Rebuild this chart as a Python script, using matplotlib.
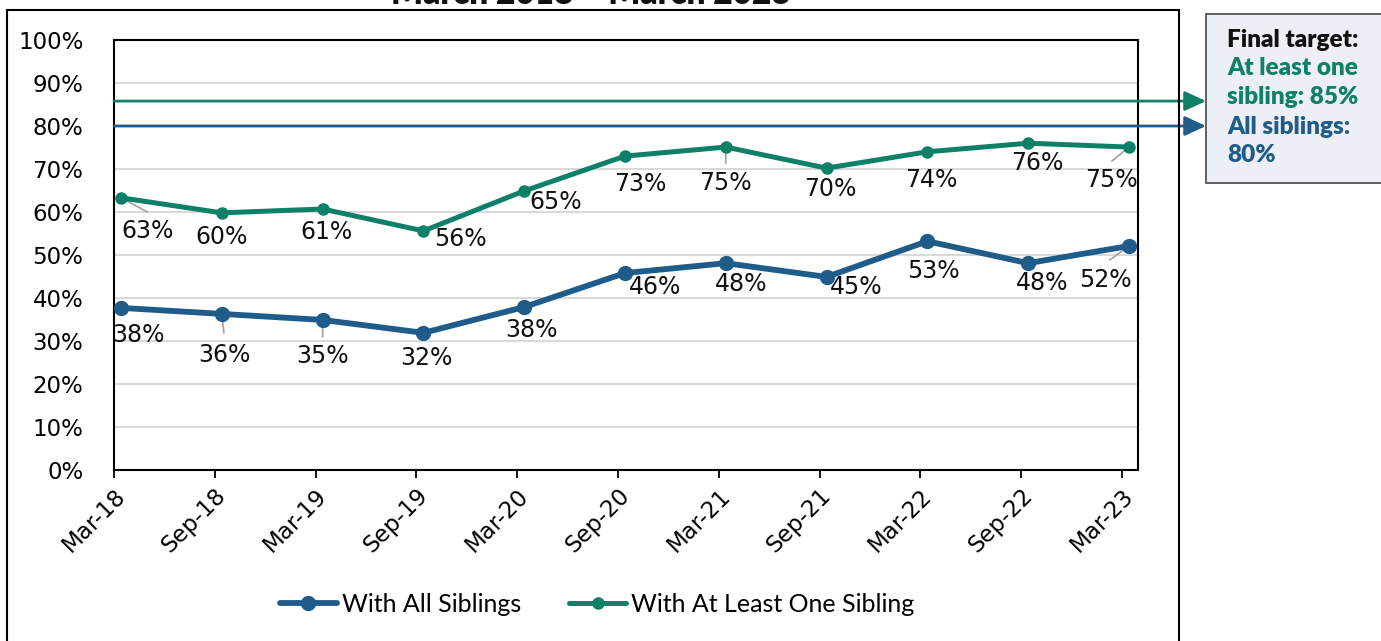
import matplotlib
matplotlib.use("Agg")
import matplotlib.pyplot as plt
from matplotlib.patches import Rectangle
import matplotlib.transforms as mtransforms

# ---------------- data ----------------
periods = ["Mar-18", "Sep-18", "Mar-19", "Sep-19", "Mar-20", "Sep-20",
           "Mar-21", "Sep-21", "Mar-22", "Sep-22", "Mar-23"]
all_siblings = [37.7, 36.3, 34.9, 31.9, 37.9, 45.8, 48.1, 44.9, 53.2, 48.1, 52.1]
one_sibling = [63.3, 59.8, 60.7, 55.6, 64.9, 73.0, 75.1, 70.2, 74.0, 76.0, 75.1]
series_names = ["With All Siblings", "With At Least One Sibling"]
target_one = 85.8
target_all = 80
title = "March 2018 \u2013 March 2023"
box_lines = ["Final target:", "At least one", "sibling: 85%", "All siblings:", "80%"]

# ---------------- style ----------------
BLUE = "#1F5C89"
GREEN = "#0E8068"
W, H = 1381, 641
fig = plt.figure(figsize=(W / 100, H / 100), dpi=100)
ax = fig.add_axes([114 / W, 1 - 470 / H, (1138 - 114) / W, (470 - 40) / H])

x_ticks = list(range(len(periods)))
x_pts = [i + 0.07 for i in x_ticks]

ax.set_xlim(0, 10.16)
ax.set_ylim(0, 100)
ax.set_yticks(range(0, 101, 10))
ax.set_yticklabels([f"{v}%" for v in range(0, 101, 10)])
ax.set_xticks(x_ticks)
ax.set_xticklabels(periods, rotation=45, ha="right", va="center", rotation_mode="anchor")
ax.tick_params(axis="y", length=0, pad=22, labelsize=16.5)
ax.tick_params(axis="x", length=6, width=1.3, direction="out", pad=10, labelsize=16.5)
for lab in ax.get_xticklabels():
    lab.set_transform(lab.get_transform() + mtransforms.ScaledTranslation(8 / 100, 0, fig.dpi_scale_trans))
ax.grid(axis="y", color="#D9D9D9", lw=1.5)
ax.set_axisbelow(True)
for s in ax.spines.values():
    s.set_color("black")
    s.set_linewidth(1.5)

ax.plot(x_pts, all_siblings, color=BLUE, lw=4.2, marker="o", ms=10, label=series_names[0], zorder=4,
        solid_capstyle="round")
ax.plot(x_pts, one_sibling, color=GREEN, lw=3.6, marker="o", ms=8, label=series_names[1], zorder=4,
        solid_capstyle="round")

# label offsets (pixels, +x right, +y down)
green_off = [(27, 33), (0, 24), (4, 23), (37, 8), (31, 11), (15, 28), (0, 36), (4, 21), (4, 28), (9, 20), (-17, 33)]
blue_off = [(17, 27), (3, 41), (0, 36), (3, 25), (7, 23), (30, 14), (15, 21), (30, 10), (6, 30), (14, 20), (-23, 34)]
green_lead = {0: (26, 14), 6: (0, 16), 10: (-17, 14)}
blue_lead = {1: (2, 19), 2: (0, 17), 10: (-19, 14)}

def label_series(vals, offs, leads):
    for i, (x, v) in enumerate(zip(x_pts, vals)):
        dx, dy = offs[i]
        ax.annotate(f"{round(v)}%", (x, v), xytext=(dx, -dy), textcoords="offset pixels",
                    ha="center", va="center", fontsize=17, color="#111111", zorder=5)
        if i in leads:
            lx, ly = leads[i]
            ax.annotate("", (x, v), xytext=(lx, -ly), textcoords="offset pixels",
                        arrowprops=dict(arrowstyle="-", color="#A6A6A6", lw=1.3,
                                        shrinkA=0, shrinkB=0), zorder=3)

label_series(one_sibling, green_off, green_lead)
label_series(all_siblings, blue_off, blue_lead)

# target arrows
for lvl, col in [(target_one, GREEN), (target_all, BLUE)]:
    ax.annotate("", xy=(1206, lvl), xytext=(114, lvl),
                xycoords=("figure pixels", "data"), textcoords=("figure pixels", "data"),
                arrowprops=dict(arrowstyle="-|>,head_length=0.65,head_width=0.3", color=col, lw=2,
                                shrinkA=0, shrinkB=0, mutation_scale=20),
                annotation_clip=False, zorder=6)

# legend
leg = fig.legend(loc="center", bbox_to_anchor=(597 / W, 1 - 604 / H), ncol=2, frameon=False,
                 prop={"family": "Lato", "size": 18}, handlelength=2.3, handletextpad=0.2,
                 columnspacing=1.9)

# outer frame
fig.patches.append(Rectangle((7 / W, -10 / H), (1179 - 7) / W, (631 + 10) / H, transform=fig.transFigure,
                             fill=False, ec="black", lw=1.5, zorder=10))

# title (cut off at the top)
fig.text(591 / W, 1 - 4.5 / H, title, ha="center", va="baseline", fontsize=24, fontweight="heavy",
         family="Lato", color="#111111")

# target box
fig.patches.append(Rectangle((1206 / W, 1 - 183 / H), 200 / W, (183 - 14) / H, transform=fig.transFigure,
                             fc="#ECEFF5", ec="#555555", lw=1.3, zorder=10))
box_cols = ["#111111", GREEN, GREEN, BLUE, BLUE]
box_y = [40, 68, 97, 127, 155]
for t, c, y in zip(box_lines, box_cols, box_y):
    fig.text(1227 / W, 1 - y / H, t, ha="left", va="center", fontsize=17.5, fontweight="heavy",
             family="Lato", color=c, zorder=11)

fig.savefig("out.png", dpi=100)
